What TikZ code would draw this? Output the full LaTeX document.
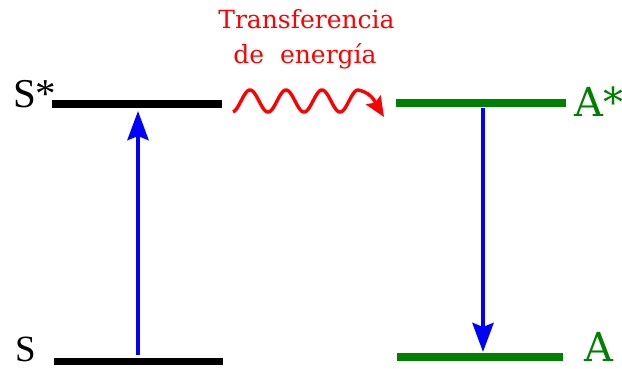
\documentclass[tikz,border=0pt]{standalone}
\usepackage{fontspec}
\setmainfont{DejaVu Serif}
\newfontfamily\lvsfont{Liberation Serif}
\usetikzlibrary{arrows.meta}
\definecolor{lvgreen}{RGB}{0,128,0}
\definecolor{lvblue}{RGB}{0,0,255}
\definecolor{lvred}{RGB}{255,0,0}
\begin{document}
\begin{tikzpicture}[x=1pt,y=-1pt,
  levelS/.style={line width=7.5pt, black},
  levelA/.style={line width=7.5pt, lvgreen},
  trans/.style={lvblue, line width=4.5pt, -{Stealth[length=29pt,width=21pt,inset=4pt]}},
  wave/.style={lvred, line width=3.4pt, -{Stealth[length=20pt,width=17pt,inset=3pt]}},
  redtext/.style={lvred, inner sep=0pt, font=\fontsize{25}{30}\selectfont},
  slabel/.style={inner sep=0pt, font=\lvsfont\fontsize{41}{44}\selectfont},
  alabel/.style={inner sep=0pt, lvgreen, font=\fontsize{40}{44}\selectfont}]
\useasboundingbox (0,0) rectangle (622,368);
% level endpoints
\coordinate (s1l) at (52,104);
\coordinate (s1r) at (222,104);
\coordinate (s0l) at (54,361.5);
\coordinate (s0r) at (223,361.5);
\coordinate (a1l) at (396,103);
\coordinate (a1r) at (566,103);
\coordinate (a0l) at (397,357);
\coordinate (a0r) at (563,357);
% transition endpoints
\coordinate (upfrom) at (138,355);
\coordinate (upto) at (138,111);
\coordinate (downfrom) at (483,108);
\coordinate (downto) at (483,352);
\coordinate (waveend) at (384,117);
% levels
\draw[levelS] (s1l) -- (s1r);
\draw[levelS] (s0l) -- (s0r);
\draw[levelA] (a1l) -- (a1r);
\draw[levelA] (a0l) -- (a0r);
% transitions
\draw[trans] (upfrom) -- (upto);
\draw[trans] (downfrom) -- (downto);
% energy transfer wave
\draw[wave] plot[domain=233:359, samples=160, smooth] (\x, {101-11*cos(((\x-250)/36)*360)}) to[out=-12, in=122] (waveend);
% texts
\node[redtext, anchor=base] (t1) at (306.5,28) {Transferencia};
\node[redtext, anchor=base] (t2) at (305,63) {de~~energía};
\node[slabel, anchor=base west] (Sx) at (13,107) {S*};
\node[slabel, anchor=base west, font=\lvsfont\fontsize{37}{40}\selectfont] (S) at (15,361) {S};
\node[alabel, anchor=base west] (Ax) at (574,116.5) {A*};
\node[alabel, anchor=base west] (A) at (584,361) {A};
\end{tikzpicture}
\end{document}
